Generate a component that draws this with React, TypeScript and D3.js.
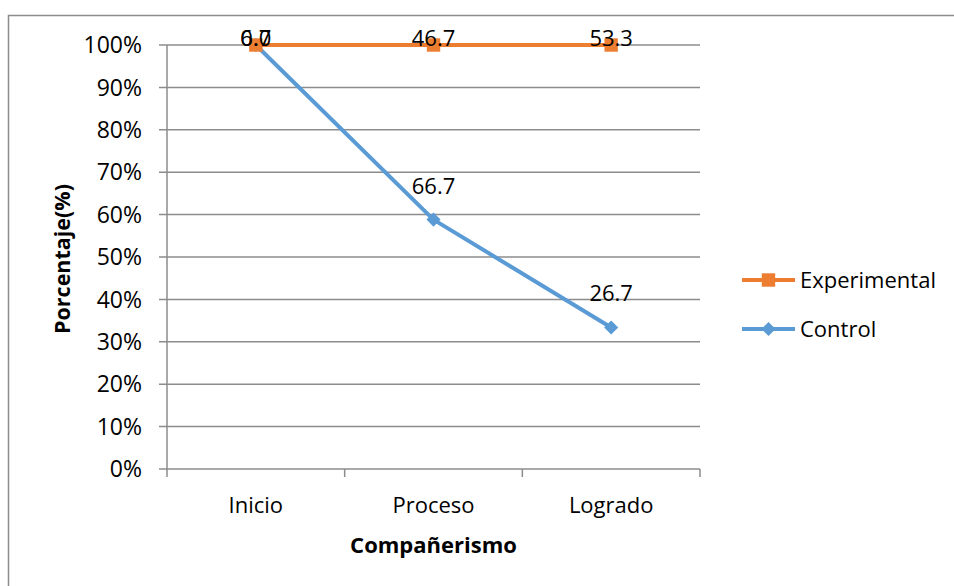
import { line, scaleBand, scaleLinear, symbol, symbolSquare } from "d3";

const categories = ["Inicio", "Proceso", "Logrado"];
const controlValues = [6.7, 66.7, 26.7];
const experimentalValues = [0.0, 46.7, 53.3];
const yTicks = [0, 10, 20, 30, 40, 50, 60, 70, 80, 90, 100];

const ORANGE = "#ED7D31";
const BLUE = "#5B9BD5";
const GRID = "#8c8c8c";
const FONT = "'Open Sans', 'Noto Sans', sans-serif";

export default function App() {
  const width = 954;
  const height = 586;
  const left = 167;
  const right = 700;
  const top = 45;
  const bottom = 469;

  const x = scaleBand<string>().domain(categories).range([left, right]);
  const y = scaleLinear().domain([0, 100]).range([bottom, top]);

  // 100% stacked: control first, experimental on top
  const totals = categories.map((_, i) => controlValues[i] + experimentalValues[i]);
  const controlPct = controlValues.map((v, i) => (v / totals[i]) * 100);
  const experimentalPct = experimentalValues.map((v, i) => ((controlValues[i] + v) / totals[i]) * 100);

  const cx = (c: string) => (x(c) ?? 0) + x.bandwidth() / 2;
  const path = (vals: number[]) =>
    line<number>()
      .x((_, i) => cx(categories[i]))
      .y((v) => y(v))(vals) ?? "";

  const square = symbol().type(symbolSquare).size(180)() ?? "";
  const diamond = symbol().type(symbolSquare).size(100)() ?? "";

  // excel keeps labels inside the chart area
  const labelY = (v: number) => Math.max(y(v) - 34, 38);

  return (
    <svg width={width} height={height} style={{ position: "absolute", left: 0, top: 0, background: "#fff" }}>
      <rect x={8.5} y={15.5} width={width + 20} height={height + 20} fill="#fff" stroke={GRID} strokeWidth={1.5} />

      {yTicks.map((t) => (
        <g key={t}>
          <line x1={left - 8} x2={right} y1={y(t)} y2={y(t)} stroke={GRID} strokeWidth={1.5} />
          <text x={142} y={y(t)} dy="0.36em" textAnchor="end" fontFamily={FONT} fontSize={23} fill="#000">
            {t}%
          </text>
        </g>
      ))}
      <line x1={left} x2={left} y1={top} y2={bottom + 8} stroke={GRID} strokeWidth={1.5} />
      {categories.map((c) => (
        <line key={c} x1={x(c)! + x.bandwidth()} x2={x(c)! + x.bandwidth()} y1={bottom} y2={bottom + 8} stroke={GRID} strokeWidth={1.5} />
      ))}

      {categories.map((c) => (
        <text key={c} x={cx(c)} y={513} textAnchor="middle" fontFamily={FONT} fontSize={22} fill="#000">
          {c}
        </text>
      ))}
      <text x={cx("Proceso")} y={553} textAnchor="middle" fontFamily={FONT} fontSize={22} fontWeight="bold" fill="#000">
        Compañerismo
      </text>
      <text
        transform={`translate(70, ${(top + bottom) / 2 + 2}) rotate(-90)`}
        textAnchor="middle"
        fontFamily={FONT}
        fontSize={21.5}
        fontWeight="bold"
        fill="#000"
      >
        Porcentaje(%)
      </text>

      <path d={path(controlPct)} fill="none" stroke={BLUE} strokeWidth={4} strokeLinejoin="round" />
      <path d={path(experimentalPct)} fill="none" stroke={ORANGE} strokeWidth={4} strokeLinejoin="round" />
      {categories.map((c, i) => (
        <path key={c} d={diamond} transform={`translate(${cx(c)},${y(controlPct[i])}) rotate(45)`} fill={BLUE} />
      ))}
      {categories.map((c, i) => (
        <path key={c} d={square} transform={`translate(${cx(c)},${y(experimentalPct[i])})`} fill={ORANGE} />
      ))}

      {categories.map((c, i) => (
        <text key={"c" + c} x={cx(c)} y={labelY(controlPct[i])} dy="0.36em" textAnchor="middle" fontFamily={FONT} fontSize={22} fill="#000">
          {controlValues[i].toFixed(1)}
        </text>
      ))}
      {categories.map((c, i) => (
        <text key={"e" + c} x={cx(c)} y={labelY(experimentalPct[i])} dy="0.36em" textAnchor="middle" fontFamily={FONT} fontSize={22} fill="#000">
          {experimentalValues[i].toFixed(1)}
        </text>
      ))}

      <g transform="translate(742, 280)">
        <line x1={0} x2={53} y1={0} y2={0} stroke={ORANGE} strokeWidth={4} />
        <path d={square} transform="translate(26.5,0)" fill={ORANGE} />
        <text x={58} y={0} dy="0.36em" fontFamily={FONT} fontSize={22} fill="#000">
          Experimental
        </text>
      </g>
      <g transform="translate(742, 329)">
        <line x1={0} x2={53} y1={0} y2={0} stroke={BLUE} strokeWidth={4} />
        <path d={diamond} transform="translate(26.5,0) rotate(45)" fill={BLUE} />
        <text x={58} y={0} dy="0.36em" fontFamily={FONT} fontSize={22} fill="#000">
          Control
        </text>
      </g>
    </svg>
  );
}
